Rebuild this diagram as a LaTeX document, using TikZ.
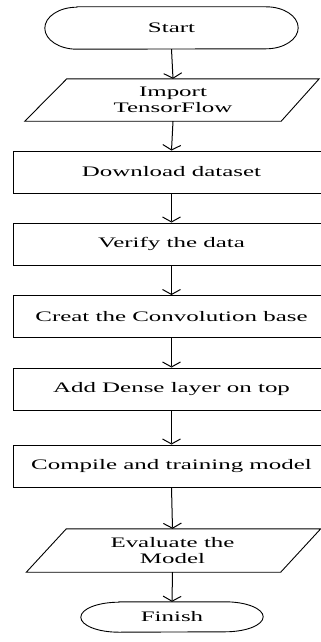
\documentclass[tikz,border=0pt]{standalone}
\usepackage{fontspec}
\usetikzlibrary{arrows.meta,calc}
\newfontfamily\flowfont[FakeStretch=1.72]{Liberation Serif}
\begin{document}
\begin{tikzpicture}[x=1pt,y=1pt,
  every node/.style={font=\flowfont\fontsize{14.5}{16}\selectfont, inner sep=0pt, align=center},
  procbox/.style={draw, line width=0.9pt, minimum width=317pt, minimum height=42pt},
  termshape/.style={minimum height=#1},
  ioshape/.style={minimum width=254pt, minimum height=42pt},
  flowline/.style={line width=1pt},
  arr/.style={flowline, -{Straight Barb[length=5pt,width=18pt,line width=1pt]}}
]
\useasboundingbox (0,0) rectangle (321,-642);
\fill[white] (0,0) rectangle (321,-642);

% nodes
\node[minimum width=253pt, minimum height=42pt] (start) at (171.5,-28) {Start};
\node[ioshape] (imp) at (173,-100) {Import\\TensorFlow};
\node[procbox] (dl) at (171.5,-172) {Download dataset};
\node[procbox] (ver) at (171.5,-244) {Verify the data};
\node[procbox] (cre) at (171.5,-316.5) {Creat the Convolution base};
\node[procbox] (add) at (171.5,-389) {Add Dense layer on top};
\node[procbox] (comp) at (171.5,-466) {Compile and training model};
\node[ioshape, minimum height=43pt] (eval) at (172.5,-550.5) {Evaluate the\\Model};
\node[minimum width=182pt, minimum height=30pt] (fin) at (172,-617) {Finish};

% terminal outlines (elliptic ends)
\draw[line width=0.9pt] ([xshift=32pt]start.north west) -- ([xshift=-32pt]start.north east)
  arc[start angle=90, end angle=-90, x radius=32pt, y radius=21pt]
  -- ([xshift=32pt]start.south west)
  arc[start angle=270, end angle=90, x radius=32pt, y radius=21pt] -- cycle;
\draw[line width=0.9pt] ([xshift=38pt]fin.north west) -- ([xshift=-38pt]fin.north east)
  arc[start angle=90, end angle=-90, x radius=38pt, y radius=15pt]
  -- ([xshift=38pt]fin.south west)
  arc[start angle=270, end angle=90, x radius=38pt, y radius=15pt] -- cycle;

% parallelograms
\draw[line width=0.9pt] ([xshift=-19pt+2pt]imp.north west) ++(38pt,0) -- ([xshift=19pt]imp.north east)
  -- ([xshift=-19pt]imp.south east) -- ([xshift=-19pt-2pt]imp.south west) -- cycle;
\draw[line width=0.9pt] ([xshift=21pt]eval.north west) -- ([xshift=21pt]eval.north east)
  -- ([xshift=-19pt]eval.south east) -- ([xshift=-19pt]eval.south west) -- cycle;

% connectors
\draw[arr] (start.south) -- (imp.north);
\draw[arr] (imp.south) -- (dl.north);
\draw[arr] (dl.south) -- (ver.north);
\draw[arr] (ver.south) -- (cre.north);
\draw[arr] (cre.south) -- (add.north);
\draw[arr] (add.south) -- (comp.north);
\draw[arr] (comp.south) -- (eval.north);
\draw[arr] (eval.south) -- (fin.north);
\end{tikzpicture}
\end{document}
